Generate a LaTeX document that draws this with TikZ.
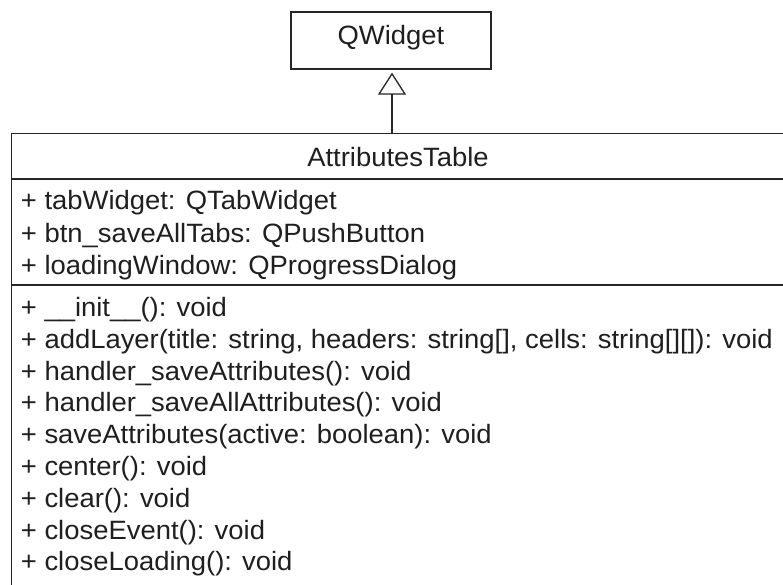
\documentclass[tikz,border=0pt]{standalone}
\usepackage{fontspec}
\newfontfamily\umlfont{Liberation Sans}[FakeStretch=1.035]
\usetikzlibrary{arrows.meta}

\begin{document}
\begin{tikzpicture}[x=1pt, y=-1pt,
  box/.style={draw=black!85, line width=1.3pt, fill=white, inner sep=0pt},
  rule/.style={draw=black!85, line width=1.3pt},
  umltext/.style={inner sep=0pt, text=black!88, font=\umlfont\fontsize{26.5}{30}\selectfont},
  member/.style={umltext, anchor=base west},
  inherit/.style={draw=black!85, line width=1.3pt,
    -{Triangle[open, width=28pt, length=22pt, line width=1.3pt]}, shorten >=3pt}]

\useasboundingbox (0,0) rectangle (783,585);
\clip (0,0) rectangle (783,585);

% superclass
\node (super) [box, minimum width=200pt, minimum height=57pt] at (391,40.5) {};
\node (supername) [umltext, anchor=base] at (391,44.7) {QWidget};

% subclass box (runs past the right and bottom edges)
\node (sub) [box, anchor=north west, minimum width=776pt, minimum height=520pt] at (10.7,132.7) {};
\node (subname) [umltext, anchor=base] at (398,166.7) {AttributesTable};

% compartment separators
\coordinate (sepA) at (10.7,179);
\coordinate (sepB) at (10.7,285);
\draw[rule] (sepA) -- (sepA -| sub.east);
\draw[rule] (sepB) -- (sepB -| sub.east);

% attributes
\node (a1) [member] at (20.7,210) {+ tabWidget: QTabWidget};
\node (a2) [member] at (20.7,242) {+ btn\_saveAllTabs: QPushButton};
\node (a3) [member] at (20.7,274) {+ loadingWindow: QProgressDialog};

% operations
\node (m1) [member] at (20.7,316.5) {+ \_\_init\_\_(): void};
\node (m2) [member] at (20.7,348.3) {+ addLayer(title: string, headers: string[], cells: string[][]): void};
\node (m3) [member] at (20.7,380.1) {+ handler\_saveAttributes(): void};
\node (m4) [member] at (20.7,411.9) {+ handler\_saveAllAttributes(): void};
\node (m5) [member] at (20.7,443.7) {+ saveAttributes(active: boolean): void};
\node (m6) [member] at (20.7,475.5) {+ center(): void};
\node (m7) [member] at (20.7,507.3) {+ clear(): void};
\node (m8) [member] at (20.7,539.1) {+ closeEvent(): void};
\node (m9) [member] at (20.7,570.9) {+ closeLoading(): void};

% generalization
\draw[inherit] ([xshift=1pt]super.south |- sub.north) -- ([xshift=1pt]super.south);
\end{tikzpicture}
\end{document}
